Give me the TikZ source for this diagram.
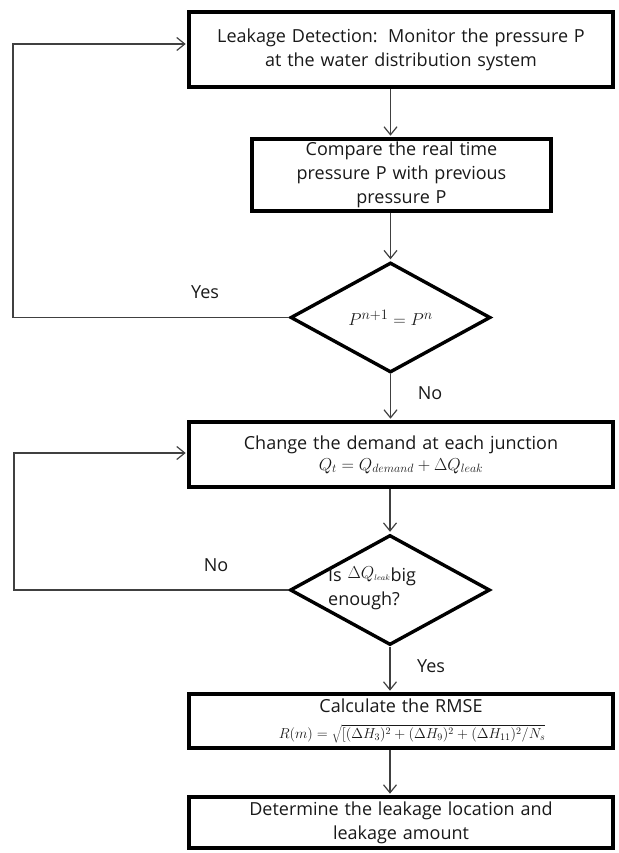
\documentclass[tikz,border=0pt]{standalone}
\usepackage{fontspec}
\setmainfont{Open Sans}[WordSpace={1.25,0.3,0.2}]
\usetikzlibrary{shapes.geometric,arrows.meta,calc}
\begin{document}
\begin{tikzpicture}[x=1pt,y=-1pt,
  every node/.style={font=\fontsize{18}{24}\selectfont, text=black!90},
  box/.style={draw=black, line width=3.6pt, rectangle, inner sep=0pt, align=center},
  dec/.style={draw=black, line width=3.4pt, diamond, inner sep=0pt, minimum width=200pt, minimum height=110pt},
  conn/.style={draw=black!75, line width=1.2pt},
  arr/.style={conn, -{Straight Barb[length=8pt,width=13pt,line width=1.2pt]}, shorten >=1.5pt},
  lbl/.style={inner sep=0pt}]
\useasboundingbox (0,0) rectangle (618,853);
% boxes
\node[box, minimum width=424pt, minimum height=75pt] (b1) at (401,49.5)
  {Leakage Detection:\, Monitor the pressure P\\ at the water distribution system};
\node[box, minimum width=299pt, minimum height=72pt] (b2) at (401.5,175)
  {Compare the real time\\ pressure P with previous\\ pressure P};
\node[dec] (d1) at (390.5,317.5) {{\fontsize{19}{22}\selectfont $P^{n+1} = P^{n}$}};
\node[box, minimum width=424pt, minimum height=65pt] (b3) at (401,454.5)
  {Change the demand at each junction\\[-3pt] {\fontsize{18}{22}\selectfont $Q_{t} = Q_{demand} + \Delta Q_{leak}$}};
\node[dec] (d2) at (390,590) {};
\node[lbl, anchor=west, align=left] (t2) at (328,588)
  {Is \raisebox{3pt}{\fontsize{17}{18}\selectfont$\Delta Q_{\scriptscriptstyle leak}$}big\\ enough?};
\node[box, minimum width=424pt, minimum height=54pt] (b4) at (401,721)
  {Calculate the RMSE\\[2pt]
   \hspace*{22pt}{\fontsize{14.5}{16}\selectfont $R(m) = \sqrt{[(\Delta H_{3})^{2} + (\Delta H_{9})^{2} + (\Delta H_{11})^{2} / N_{s}}$}};
\node[box, minimum width=424pt, minimum height=51pt] (b5) at (401,822.5)
  {Determine the leakage location and\\ leakage amount};
% labels
\node[lbl] (ly1) at (205,292) {Yes};
\node[lbl] (ln1) at (430,393) {No};
\node[lbl] (ln2) at (216,565) {No};
\node[lbl] (ly2) at (431,666) {Yes};
% loop corners
\coordinate (c1) at (13,317.5);
\coordinate (c2) at (13,44);
\coordinate (c3) at (14,590);
\coordinate (c4) at (14,453);
% connectors
\draw[arr] (d1.north |- b1.south) -- (d1.north |- b2.north);
\draw[arr] (d1.north |- b2.south) -- (d1.north);
\draw[arr] (d1.south) -- (d1.south |- b3.north);
\draw[arr] (d2.north |- b3.south) -- (d2.north);
\draw[arr] (d2.south) -- (d2.south |- b4.north);
\draw[arr] (d2.south |- b4.south) -- (d2.south |- b5.north);
\draw[arr] (d1.west) -- (c1) -- (c2) -- (c2 -| b1.west);
\draw[arr] (d2.west) -- (c3) -- (c4) -- (c4 -| b3.west);
\end{tikzpicture}
\end{document}
